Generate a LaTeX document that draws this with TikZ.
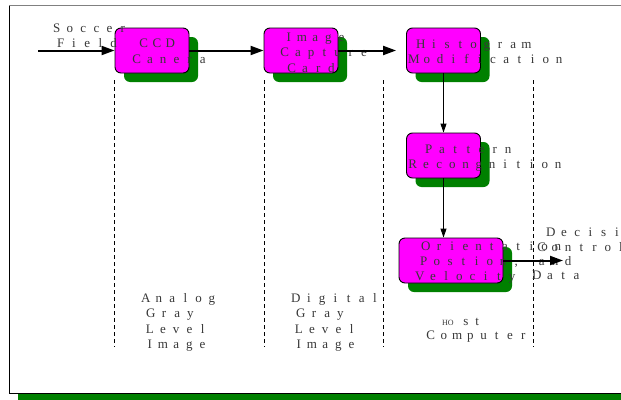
\documentclass[tikz,border=0pt]{standalone}
\usepackage{fontspec}
\setmainfont{Liberation Serif}
\usetikzlibrary{arrows.meta,shadows}
\definecolor{mag}{RGB}{255,0,255}
\definecolor{shad}{RGB}{0,128,0}
\definecolor{txt}{RGB}{55,55,55}
\makeatletter
\newcommand\spaced[1]{\@tfor\spch:=#1\do{\makebox[13.2pt]{\spch}}}
\makeatother
\begin{document}
\begin{tikzpicture}[x=1pt,y=-1pt,
  blk/.style={draw=black, line width=0.9pt, fill=mag, rounded corners=6pt,
    minimum width=74pt, minimum height=45pt, inner sep=0pt,
    drop shadow={shadow xshift=9pt, shadow yshift=-9pt, fill=shad, opacity=1}},
  lbl/.style={anchor=base west, inner sep=0pt, text=txt, font=\fontsize{13}{14}\selectfont},
  sepline/.style={dash pattern=on 4pt off 3pt, line width=0.8pt},
  bigarrow/.style={-{Triangle[length=13pt,width=9pt]}, line width=2pt},
  smallarrow/.style={-{Triangle[length=9pt,width=6pt]}, line width=1pt}]
\useasboundingbox (0,0) rectangle (621,399);
\clip (0,0) rectangle (621,399);
% frame
\fill[shad] (18,394) rectangle (640,410);
\draw[black, line width=1pt] (640,393.5) -- (9.5,393.5) -- (9.5,5.5);
\draw[gray, line width=1.8pt] (9,5.5) -- (640,5.5);
% separators
\draw[sepline] (114,80) -- (114,347);
\draw[sepline] (264,80) -- (264,347);
\draw[sepline] (383,80) -- (383,347);
\draw[sepline] (533,80) -- (533,347);
% boxes
\node[blk] (ccd) at (152,50.5) {};
\node[blk] (img) at (301,50.5) {};
\node[blk] (hist) at (443.5,50.5) {};
\node[blk] (pat) at (443.5,155.5) {};
\node[blk, minimum width=104pt] (ori) at (451,260.5) {};
% labels
\node[lbl] (soc) at (50,32) {\spaced{Soccer}};
\node[lbl] (fld) at (54,47.5) {\spaced{Field}};
\node[lbl] (ccdA) at (137,47.5) {\spaced{CCD}};
\node[lbl] (ccdB) at (130,63) {\spaced{Canera}};
\node[lbl] (imgA) at (282,41) {\spaced{Image}};
\node[lbl] (imgB) at (278,56.5) {\spaced{Capture}};
\node[lbl] (imgC) at (285,72) {\spaced{Card}};
\node[lbl] (hisA) at (414,48) {\spaced{Histogram}};
\node[lbl] (hisB) at (407,63) {\spaced{Modification}};
\node[lbl] (patA) at (422,153) {\spaced{Pattern}};
\node[lbl] (patB) at (406,168) {\spaced{Recongnition}};
\node[lbl] (oriA) at (419,250) {\spaced{Orientation}};
\node[lbl] (oriB) at (417,265) {\spaced{Postion,}};
\node[lbl] (oriC) at (413,280) {\spaced{Velocity}};
\node[lbl] (decA) at (544,236) {\spaced{Decision}};
\node[lbl] (decB) at (535,251) {\spaced{Control}};
\node[lbl] (decC) at (535,265) {\spaced{and}};
\node[lbl] (decD) at (530,279) {\spaced{Data}};
\node[lbl] (anA) at (139,302) {\spaced{Analog}};
\node[lbl] (anB) at (144,317) {\spaced{Gray}};
\node[lbl] (anC) at (143,333) {\spaced{Level}};
\node[lbl] (anD) at (143,348) {\spaced{Image}};
\node[lbl] (diA) at (289,302) {\spaced{Digital}};
\node[lbl] (diB) at (294,317) {\spaced{Gray}};
\node[lbl] (diC) at (292,333) {\spaced{Level}};
\node[lbl] (diD) at (292,348) {\spaced{Image}};
\node[lbl] (hoA) at (442,325) {{\fontsize{8}{8}\selectfont HO}\hspace{9.5pt}s\hspace{7pt}t};
\node[lbl] (hoB) at (424,339) {\spaced{Computer}};
% connectors
\coordinate (in) at (38,50.5);
\coordinate (out) at (563,260.5);
\draw[bigarrow] (in) -- (ccd);
\draw[bigarrow] (ccd) -- (img);
\draw[bigarrow, shorten >=10pt] (img) -- (hist);
\draw[smallarrow] (hist) -- (pat);
\draw[smallarrow] (pat.south) -- (pat.south |- ori.north);
\draw[bigarrow] (ori) -- (out);
\end{tikzpicture}
\end{document}
